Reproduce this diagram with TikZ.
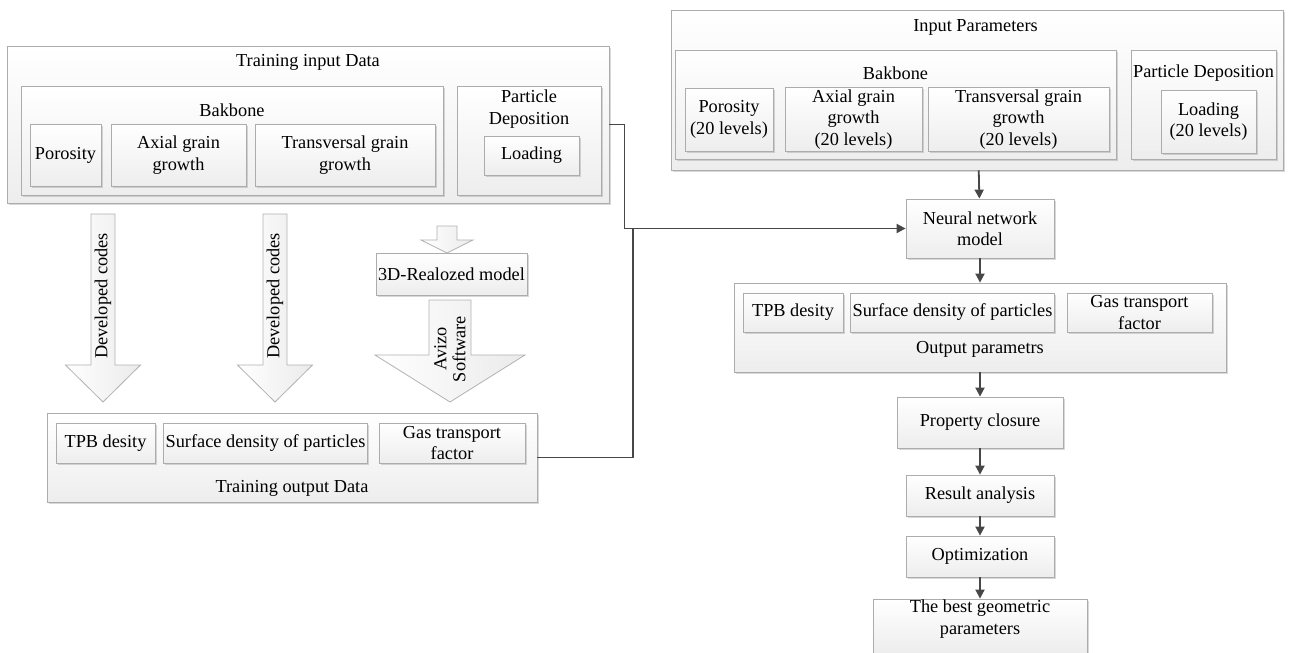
\documentclass[tikz,border=0pt]{standalone}
\usepackage{fontspec}
\setmainfont{Liberation Serif}
\usetikzlibrary{arrows.meta,shadows}

\begin{document}
\begin{tikzpicture}[x=1pt, y=-1pt, >={Triangle[length=9pt,width=9pt]}, font=\fontsize{18.3}{21.5}\selectfont]
	\tikzstyle{bloc} = [rectangle, draw=gray!65, line width=0.8pt, top color=white, bottom color=gray!14, drop shadow={opacity=0.3, shadow xshift=1.5pt, shadow yshift=-1.5pt}, align=center, inner sep=2pt]
	\tikzstyle{fleche} = [draw=black!72, line width=1.8pt]
	\tikzstyle{grosse} = [draw=gray!60, line width=0.8pt, left color=white, right color=gray!16]
	\useasboundingbox (0,0) rectangle (1290,653);
	\fill[white] (0,0) rectangle (1290,653);

	% donnees d'entrainement
	\node[bloc, minimum width=602pt, minimum height=157pt] (tin) at (308,124.5) {};
	\node (tin_t) at (308,62) {Training input Data};
	\node[bloc, minimum width=422pt, minimum height=109pt] (tbak) at (232,140.5) {};
	\node (tbak_t) at (232,110) {Bakbone};
	\node[bloc, minimum width=71pt, minimum height=62pt] (tpor) at (65.5,155) {Porosity};
	\node[bloc, minimum width=135pt, minimum height=62pt] (taxi) at (178.5,155) {Axial grain\\growth};
	\node[bloc, minimum width=180pt, minimum height=62pt] (ttra) at (345,155) {Transversal grain\\growth};
	\node[bloc, minimum width=144pt, minimum height=109pt] (tpart) at (529,140.5) {};
	\node[align=center] (tpart_t) at (529,109) {Particle\\Deposition};
	\node[bloc, minimum width=95pt, minimum height=39pt] (tload) at (531.5,155.5) {Loading};

	% grosses fleches
	\draw[grosse] (91,214) -- (115,214) -- (115,365) -- (140.5,365) -- (103,402) -- (65.5,365) -- (91,365) -- cycle;
	\node[rotate=90] (dev_a) at (103,296) {Developed codes};
	\draw[grosse] (263,214) -- (287,214) -- (287,365) -- (312.5,365) -- (275,402) -- (237.5,365) -- (263,365) -- cycle;
	\node[rotate=90] (dev_b) at (275,296) {Developed codes};
	\draw[grosse] (437,226) -- (457,226) -- (457,240) -- (473,240) -- (447,253) -- (421,240) -- (437,240) -- cycle;
	\node[bloc, minimum width=151pt, minimum height=42pt] (real) at (451.5,274) {3D-Realozed model};
	\draw[grosse] (429,300) -- (471,300) -- (471,355) -- (525,355) -- (450,402) -- (375,355) -- (429,355) -- cycle;
	\node[rotate=90, align=center, font=\fontsize{18.3}{19}\selectfont] (avizo) at (450,349) {Avizo\\Software};

	% sorties d'entrainement
	\node[bloc, minimum width=490pt, minimum height=89pt] (tout) at (292,457.5) {};
	\node (tout_t) at (292,488) {Training output Data};
	\node[bloc, minimum width=99pt, minimum height=40pt] (ttpb) at (105.5,443) {TPB desity};
	\node[bloc, minimum width=203pt, minimum height=40pt] (tsur) at (265.5,443) {Surface density of particles};
	\node[bloc, minimum width=146pt, minimum height=40pt] (tgas) at (452,443) {Gas transport\\factor};

	% parametres d'entree
	\node[bloc, minimum width=612pt, minimum height=160pt] (pin) at (977,90) {};
	\node (pin_t) at (975.5,27) {Input Parameters};
	\node[bloc, minimum width=441pt, minimum height=109pt] (pbak) at (895.5,104.5) {};
	\node (pbak_t) at (895.5,73) {Bakbone};
	\node[bloc, minimum width=88pt, minimum height=63pt] (ppor) at (729,119.5) {Porosity\\(20 levels)};
	\node[bloc, minimum width=137pt, minimum height=63pt] (paxi) at (853.5,119.5) {Axial grain\\growth\\(20 levels)};
	\node[bloc, minimum width=181pt, minimum height=63pt] (ptra) at (1018.5,119.5) {Transversal grain\\growth\\(20 levels)};
	\node[bloc, minimum width=145pt, minimum height=109pt] (ppart) at (1203.5,104.5) {};
	\node (ppart_t) at (1203.5,73) {Particle Deposition};
	\node[bloc, minimum width=95pt, minimum height=63pt] (pload) at (1208.5,121.5) {Loading\\(20 levels)};

	% chaine de traitement
	\node[bloc, minimum width=148pt, minimum height=59pt] (nn) at (980,228.5) {Neural network\\model};
	\node[bloc, minimum width=492pt, minimum height=89pt] (out) at (980,327.5) {};
	\node (out_t) at (980,349) {Output parametrs};
	\node[bloc, minimum width=100pt, minimum height=39pt] (otpb) at (793,312.5) {TPB desity};
	\node[bloc, minimum width=201pt, minimum height=39pt] (osur) at (952.5,312.5) {Surface density of particles};
	\node[bloc, minimum width=145pt, minimum height=39pt] (ogas) at (1139.5,312.5) {Gas transport\\factor};
	\node[bloc, minimum width=166pt, minimum height=51pt] (prop) at (980,422.5) {Property closure};
	\node[bloc, minimum width=148pt, minimum height=41pt] (res) at (980,495.5) {Result analysis};
	\node[bloc, minimum width=148pt, minimum height=41pt] (opt) at (980,556.5) {Optimization};
	\node[bloc, minimum width=214pt, minimum height=54pt] (best) at (980,626) {};
	\node[align=center] (best_t) at (980,619) {The best geometric\\parameters};

	% liaisons
	\coordinate (jonction) at (633,228.5);
	\draw[fleche, ->] (tin.east) -- ++(15,0) |- (nn.west);
	\draw[fleche] (tout.east) -| (jonction);
	\draw[fleche, ->] (pin) -- (nn);
	\draw[fleche, ->] (nn) -- (out);
	\draw[fleche, ->] (out) -- (prop);
	\draw[fleche, ->] (prop) -- (res);
	\draw[fleche, ->] (res) -- (opt);
	\draw[fleche, ->] (opt) -- (best);
\end{tikzpicture}
\end{document}
